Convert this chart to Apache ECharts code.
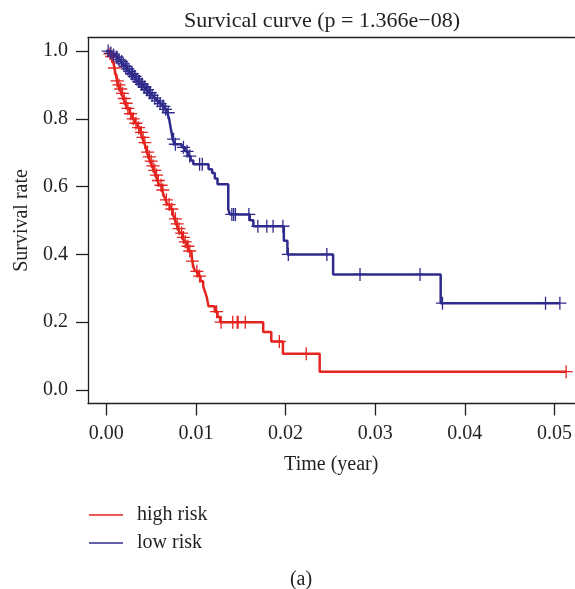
<!DOCTYPE html>
<html>
<head>
<meta charset="utf-8">
<script src="https://cdn.jsdelivr.net/npm/echarts@6/dist/echarts.min.js"></script>
<style>html,body{margin:0;padding:0;background:#fff}#c{width:575px;height:589px}</style>
</head>
<body>
<div id="c"></div>
<script>
// ---- data ----
const seriesNames = ['high risk', 'low risk'];
const xTicks = [0, 0.01, 0.02, 0.03, 0.04, 0.05];
const yTicks = [0, 0.2, 0.4, 0.6, 0.8, 1.0];

// high risk: event times and survival after each event
const highT = [0.0003,0.0005,0.0007,0.0008,0.0009,0.0010,0.0011,0.0012,0.0013,0.0015,0.0017,0.0019,0.0021,0.0023,0.0026,0.0029,0.0032,0.0035,0.0038,0.0040,0.0042,0.0044,0.0045,0.0047,0.0049,0.0051,0.0053,0.0055,0.0057,0.0059,0.0062,0.0064,0.0066,0.0068,0.0071,0.0074,0.0076,0.0078,0.0080,0.0082,0.0085,0.0087,0.0090,0.0092,0.0095,0.0096,0.0097,0.0099,0.0102,0.0105,0.0108,0.0110,0.0112,0.0113,0.0114,0.0121,0.0124,0.0127,0.0175,0.0184,0.0197,0.0238];
const highS = [0.992,0.984,0.975,0.963,0.950,0.937,0.925,0.912,0.900,0.888,0.875,0.860,0.846,0.831,0.815,0.800,0.787,0.774,0.760,0.745,0.730,0.716,0.702,0.688,0.675,0.661,0.648,0.634,0.618,0.604,0.590,0.575,0.561,0.547,0.534,0.520,0.505,0.490,0.476,0.463,0.450,0.437,0.424,0.410,0.396,0.380,0.364,0.350,0.336,0.321,0.306,0.290,0.274,0.260,0.247,0.231,0.215,0.200,0.171,0.143,0.107,0.054];
const highCensor = [0.0004,0.0006,0.0009,0.0012,0.0014,0.0016,0.0018,0.0020,0.0022,0.0024,0.0027,0.0030,0.0033,0.0036,0.0039,0.0041,0.0043,0.0046,0.0048,0.0050,0.0052,0.0054,0.0056,0.0058,0.0061,0.0063,0.0067,0.0070,0.0073,0.0077,0.0079,0.0081,0.0084,0.0086,0.0088,0.0091,0.0093,0.0096,0.0101,0.0104,0.0123,0.0128,0.0141,0.0146,0.0147,0.0155,0.0193,0.0223,0.0513];

// low risk
const lowT = [0.0004,0.0007,0.0010,0.0013,0.0016,0.0018,0.0020,0.0023,0.0025,0.0027,0.0030,0.0033,0.0035,0.0038,0.0041,0.0044,0.0047,0.0050,0.0053,0.0056,0.0059,0.0062,0.0065,0.0068,0.0070,0.0071,0.0072,0.0073,0.0074,0.0076,0.0084,0.0088,0.0091,0.0094,0.0097,0.0114,0.0118,0.0121,0.0124,0.0136,0.0138,0.0160,0.0164,0.0198,0.0202,0.0253,0.0373];
const lowS = [0.994,0.988,0.982,0.975,0.969,0.962,0.955,0.947,0.940,0.933,0.925,0.917,0.910,0.902,0.894,0.886,0.877,0.869,0.861,0.853,0.845,0.837,0.828,0.818,0.800,0.785,0.770,0.755,0.740,0.725,0.716,0.704,0.690,0.677,0.666,0.651,0.640,0.624,0.607,0.533,0.518,0.501,0.483,0.440,0.400,0.341,0.256];
const lowCensor = [0.0002,0.0005,0.0008,0.0011,0.0012,0.0014,0.0017,0.0019,0.0021,0.0022,0.0024,0.0026,0.0028,0.0029,0.0031,0.0032,0.0034,0.0036,0.0037,0.0039,0.0040,0.0042,0.0043,0.0045,0.0046,0.0048,0.0049,0.0051,0.0054,0.0057,0.0060,0.0063,0.0064,0.0066,0.0069,0.0075,0.0077,0.0086,0.0090,0.0093,0.0104,0.0107,0.0140,0.0142,0.0144,0.0159,0.0169,0.0179,0.0186,0.0197,0.0203,0.0246,0.0283,0.0350,0.0375,0.0490,0.0506];

// ---- build ----
const RED = '#e5231f', BLUE = '#2f2b8c', INK = '#231f20';
const FONT = "'Liberation Serif', 'DejaVu Serif', serif";
const X_MIN = -0.00205, X_MAX = 0.05223, Y_MIN = -0.04, Y_MAX = 1.04;
function stepData(ts, ss, cens) {
  const d = [[0, 1]];
  ts.forEach((t, i) => d.push([t, ss[i]]));
  d.push([Math.max(...cens), ss[ss.length - 1]]);
  return d;
}
function survAt(ts, ss, t) {
  let s = 1;
  for (let i = 0; i < ts.length; i++) if (ts[i] <= t) s = ss[i];
  return s;
}
function censorData(ts, ss, cens) { return cens.map(t => [t, survAt(ts, ss, t)]); }
const PLUS = 'path://M-1,-0.1L-0.1,-0.1L-0.1,-1L0.1,-1L0.1,-0.1L1,-0.1L1,0.1L0.1,0.1L0.1,1L-0.1,1L-0.1,0.1L-1,0.1Z';
const axisLineStyle = {color: INK, width: 1.3};

const chart = echarts.init(document.getElementById('c'), null, {renderer: 'canvas'});
chart.setOption({
  animation: false,
  backgroundColor: '#fff',
  title: [{
    text: 'Survical curve (p = 1.366e\u221208)',
    left: 317, top: 5, textAlign: 'center',
    textStyle: {fontFamily: FONT, fontSize: 22, fontWeight: 'normal', color: INK}
  }, {
    text: '(a)', left: 296, top: 565, textAlign: 'center',
    textStyle: {fontFamily: FONT, fontSize: 20, fontWeight: 'normal', color: INK}
  }],
  legend: {
    data: seriesNames, orient: 'vertical', left: 84, top: 500,
    icon: 'rect', itemWidth: 34, itemHeight: 1.5, itemGap: 8,
    textStyle: {fontFamily: FONT, fontSize: 20, color: INK, padding: [0, 0, 0, 9]}
  },
  grid: {left: 88, right: 0, top: 37.5, height: 366, show: false, containLabel: false},
  xAxis: [{
    type: 'value', min: X_MIN, max: X_MAX, position: 'bottom',
    name: 'Time (year)', nameLocation: 'middle', nameGap: 51,
    nameTextStyle: {fontFamily: FONT, fontSize: 20, color: INK},
    axisLine: {show: true, onZero: false, lineStyle: axisLineStyle},
    axisTick: {show: true, length: 12, lineStyle: axisLineStyle, customValues: xTicks},
    axisLabel: {fontFamily: FONT, fontSize: 20, color: INK, margin: 20, customValues: xTicks, formatter: v => v.toFixed(2)},
    splitLine: {show: false}
  }, {
    type: 'value', min: X_MIN, max: X_MAX, position: 'top',
    axisLine: {show: true, onZero: false, lineStyle: axisLineStyle},
    axisTick: {show: false}, axisLabel: {show: false}, splitLine: {show: false}
  }],
  yAxis: {
    type: 'value', min: Y_MIN, max: Y_MAX,
    name: 'Survival rate', nameLocation: 'middle', nameGap: 37,
    nameTextStyle: {fontFamily: FONT, fontSize: 20, color: INK},
    axisLine: {show: true, onZero: false, lineStyle: axisLineStyle},
    axisTick: {show: true, length: 12, lineStyle: axisLineStyle, customValues: yTicks},
    axisLabel: {fontFamily: FONT, fontSize: 20, color: INK, margin: 20, customValues: yTicks, formatter: v => v.toFixed(1)},
    splitLine: {show: false}
  },
  series: [
    {name: 'high risk', type: 'line', step: 'end', showSymbol: false, color: RED,
     lineStyle: {color: RED, width: 2.5}, data: stepData(highT, highS, highCensor), z: 2},
    {name: 'low risk', type: 'line', step: 'end', showSymbol: false, color: BLUE,
     lineStyle: {color: BLUE, width: 2.5}, data: stepData(lowT, lowS, lowCensor), z: 2},
    {name: 'high censor', type: 'scatter', symbol: PLUS, symbolSize: 13, itemStyle: {color: RED, opacity: 1},
     data: censorData(highT, highS, highCensor), z: 3},
    {name: 'low censor', type: 'scatter', symbol: PLUS, symbolSize: 13, itemStyle: {color: BLUE, opacity: 1},
     data: censorData(lowT, lowS, lowCensor), z: 3}
  ]
});
</script>
</body>
</html>
